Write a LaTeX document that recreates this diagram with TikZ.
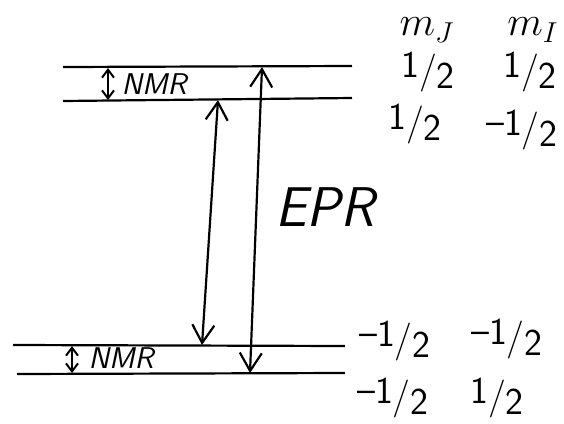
\documentclass[tikz,border=0pt]{standalone}
\usetikzlibrary{arrows.meta}
\newcommand\hlf{\raisebox{0.3ex}{1}/\raisebox{-0.35ex}{2}}
\newcommand\mhlf{\raisebox{0.35ex}{--}\hlf}
\begin{document}
\begin{tikzpicture}[x=0.5pt,y=-0.5pt,
  level/.style={line width=1.1pt},
  epr/.style={line width=1.1pt,{Straight Barb[length=9pt,width=11pt]}-{Straight Barb[length=9pt,width=11pt]}},
  nmr/.style={line width=1pt,{Straight Barb[length=4pt,width=6pt]}-{Straight Barb[length=4pt,width=6pt]}},
  lbl/.style={font=\sffamily\fontsize{15}{17}\selectfont\slshape, inner sep=0pt},
  big/.style={font=\sffamily\fontsize{28}{32}\selectfont\slshape, inner sep=0pt},
  qn/.style={font=\sffamily\fontsize{19}{22}\selectfont, inner sep=0pt},
  mq/.style={font=\fontsize{22}{24}\selectfont, inner sep=0pt}]
\useasboundingbox (0,0) rectangle (564,424);
% levels
\coordinate (l1a) at (63,67);  \coordinate (l1b) at (352,66);
\coordinate (l2a) at (63,101); \coordinate (l2b) at (352,98);
\coordinate (l3a) at (13,345); \coordinate (l3b) at (345,346);
\coordinate (l4a) at (17,374); \coordinate (l4b) at (345,373);
\draw[level] (l1a) -- (l1b);
\draw[level] (l2a) -- (l2b);
\draw[level] (l3a) -- (l3b);
\draw[level] (l4a) -- (l4b);
% NMR arrows
\coordinate (n1t) at (108,68); \coordinate (n1b) at (108,100);
\coordinate (n2t) at (72,346); \coordinate (n2b) at (72,373);
\draw[nmr] (n1t) -- (n1b);
\draw[nmr] (n2t) -- (n2b);
\node[lbl] (nmr1) at (154,84) {NMR};
\node[lbl] (nmr2) at (121,358) {NMR};
% EPR arrows
\coordinate (e1t) at (218,100); \coordinate (e1b) at (202,345);
\coordinate (e2t) at (262,67);  \coordinate (e2b) at (250,373);
\draw[epr] (e1t) -- (e1b);
\draw[epr] (e2t) -- (e2b);
\node[big] (eprl) at (325,207) {EPR};
% quantum numbers
\node[mq] (mj) at (427,30) {$m_J$};
\node[mq] (mi) at (533,30) {$m_I$};
\node[qn] (a1) at (428,72) {\hlf};
\node[qn] (a2) at (530,72) {\hlf};
\node[qn] (b1) at (415,124) {\hlf};
\node[qn] (b2) at (522,130) {\mhlf};
\node[qn] (c1) at (395,341) {\mhlf};
\node[qn] (c2) at (507,339) {\mhlf};
\node[qn] (d1) at (393,398) {\mhlf};
\node[qn] (d2) at (497,398) {\hlf};
\end{tikzpicture}
\end{document}
